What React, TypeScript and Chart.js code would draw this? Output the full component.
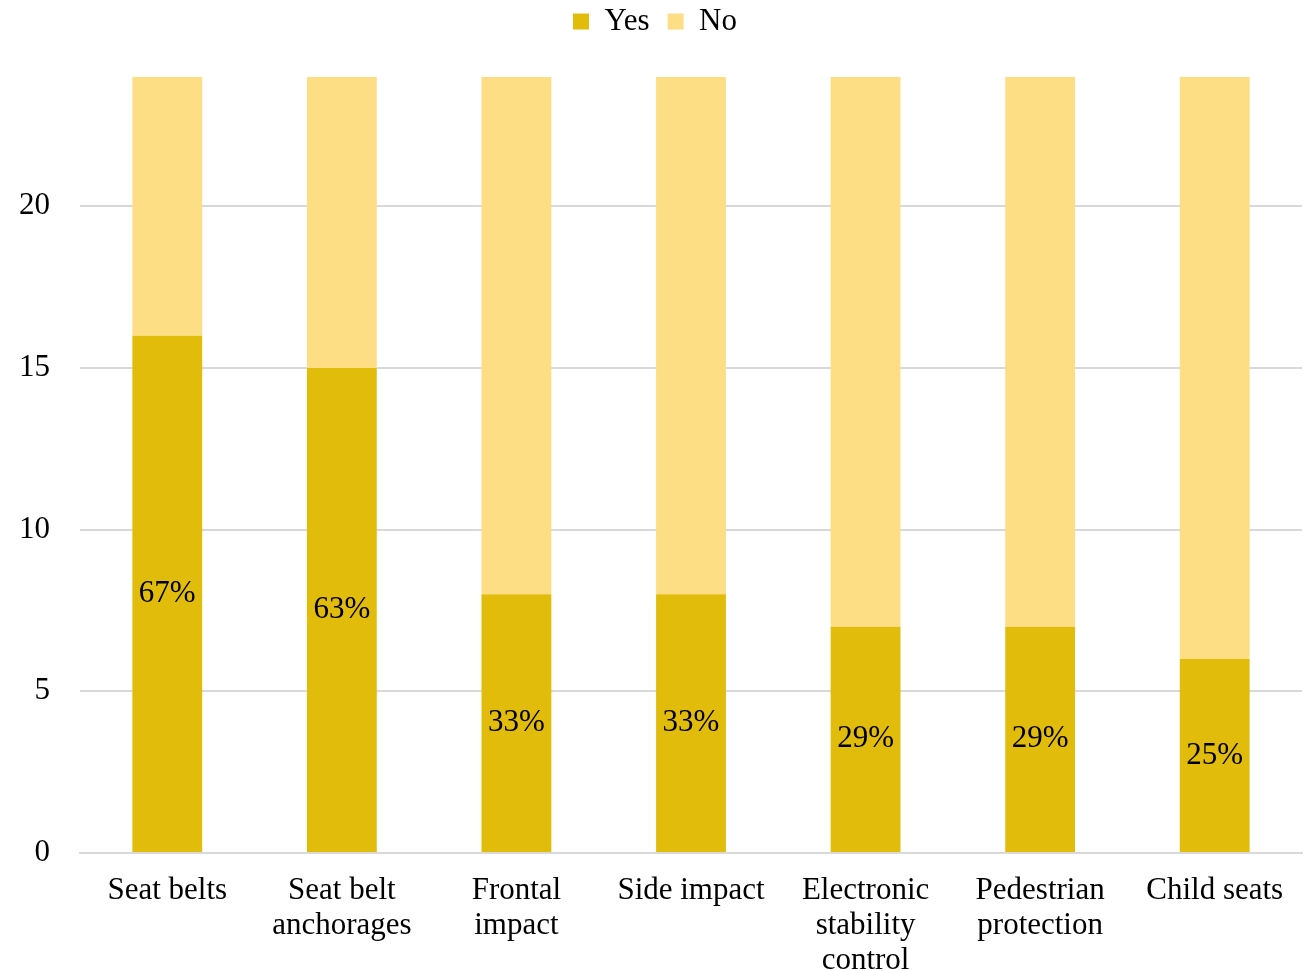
import React, { useEffect, useRef } from "react";
import { Chart, registerables } from "chart.js";

Chart.register(...registerables);

const categories: (string | string[])[] = [
  "Seat belts",
  ["Seat belt", "anchorages"],
  ["Frontal", "impact"],
  "Side impact",
  ["Electronic", "stability", "control"],
  ["Pedestrian", "protection"],
  "Child seats",
];
const yesValues = [16, 15, 8, 8, 7, 7, 6];
const noValues = [8, 9, 16, 16, 17, 17, 18];
const yesLabels = ["67%", "63%", "33%", "33%", "29%", "29%", "25%"];
const yTicks = [0, 5, 10, 15, 20];

const FONT = "'Liberation Serif', 'Times New Roman', serif";
const FS = 31;

const labelPlugin = {
  id: "yesLabels",
  afterDatasetsDraw(chart: any) {
    const ctx = chart.ctx;
    const meta = chart.getDatasetMeta(0);
    ctx.save();
    ctx.font = `${FS}px ${FONT}`;
    ctx.fillStyle = "#000";
    ctx.textAlign = "center";
    ctx.textBaseline = "middle";
    meta.data.forEach((bar: any, i: number) => {
      const { x, y, base } = bar.getProps(["x", "y", "base"], true);
      ctx.fillText(yesLabels[i], x, (y + base) / 2);
    });
    ctx.restore();
  },
};

const legendMargin = {
  id: "legendMargin",
  beforeInit(chart: any) {
    const orig = chart.legend.fit;
    chart.legend.fit = function () {
      orig.bind(chart.legend)();
      this.height += 30;
    };
  },
};

export default function App() {
  const ref = useRef<HTMLCanvasElement>(null);
  useEffect(() => {
    if (!ref.current) return;
    const chart = new Chart(ref.current, {
      type: "bar",
      data: {
        labels: categories,
        datasets: [
          {
            label: "Yes",
            data: yesValues,
            backgroundColor: "#E2BC0A",
            barPercentage: 0.4,
            categoryPercentage: 1,
          },
          {
            label: "No",
            data: noValues,
            backgroundColor: "#FDDE84",
            barPercentage: 0.4,
            categoryPercentage: 1,
          },
        ],
      },
      options: {
        animation: false,
        responsive: false,
        maintainAspectRatio: false,
        layout: { padding: { left: 8, right: 10, top: -12, bottom: 0 } },
        plugins: {
          legend: {
            position: "top",
            labels: {
              boxWidth: 16,
              boxHeight: 16,
              padding: 18,
              color: "#000",
              font: { family: FONT, size: FS },
            },
          },
          tooltip: { enabled: false },
        },
        scales: {
          x: {
            stacked: true,
            grid: { display: false },
            border: { display: true, color: "#d9d9d9", width: 2 },
            ticks: {
              color: "#000",
              font: { family: FONT, size: FS, lineHeight: 1.13 },
              maxRotation: 0,
              autoSkip: false,
              padding: 12,
            },
            afterFit(scale: any) {
              scale.height = 118;
            },
          },
          y: {
            stacked: true,
            min: 0,
            max: 24,
            grid: { color: "#d9d9d9", lineWidth: 2, drawTicks: false },
            border: { display: false },
            ticks: {
              color: "#000",
              font: { family: FONT, size: FS },
              padding: 30,
              stepSize: 5,
            },
            afterBuildTicks(scale: any) {
              scale.ticks = yTicks.map((v) => ({ value: v }));
            },
            afterFit(scale: any) {
              scale.width = 72;
            },
          },
        },
      },
      plugins: [labelPlugin, legendMargin],
    });
    return () => chart.destroy();
  }, []);
  return (
    <div style={{ position: "fixed", left: 0, top: 0, width: 1312, height: 971, background: "#fff" }}>
      <canvas ref={ref} width={1312} height={971} />
    </div>
  );
}
